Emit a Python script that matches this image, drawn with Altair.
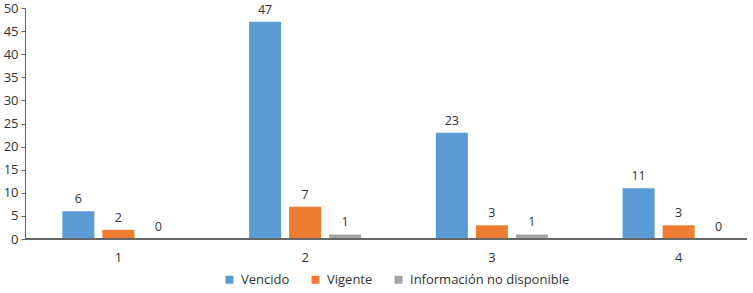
import altair as alt
import pandas as pd

categories = ["1", "2", "3", "4"]
series = ["Vencido", "Vigente", "Información no disponible"]
vencido = [6, 47, 23, 11]
vigente = [2, 7, 3, 3]
info_nd = [0, 1, 1, 0]
colors = ["#5B9BD5", "#ED7D31", "#A5A5A5"]

rows = []
for i, c in enumerate(categories):
    for s, vals in zip(series, [vencido, vigente, info_nd]):
        rows.append({"cat": c, "serie": s, "valor": vals[i]})
df = pd.DataFrame(rows)

FONT = "Open Sans"
W, H = 722, 231

x = alt.X("cat:N", sort=categories, title=None,
          scale=alt.Scale(range=[0, 747], paddingInner=0, paddingOuter=0),
          axis=alt.Axis(labelAngle=0, domain=False, ticks=False, labelPadding=12,
                        labelFont=FONT, labelFontSize=13, labelColor="#333333"))
xo = alt.XOffset("serie:N", sort=series,
                 scale=alt.Scale(paddingInner=0.2, paddingOuter=0.933))
y = alt.Y("valor:Q", title=None,
          scale=alt.Scale(domain=[0, 50], nice=False),
          axis=alt.Axis(values=list(range(0, 51, 5)), grid=False, domainColor="#666666",
                        tickColor="#666666", tickSize=4, labelPadding=3,
                        labelFont=FONT, labelFontSize=13, labelColor="#333333"))

bars = alt.Chart(df).mark_bar().encode(
    x=x, xOffset=xo, y=y,
    color=alt.Color("serie:N", sort=series,
                    scale=alt.Scale(domain=series, range=colors),
                    legend=alt.Legend(title=None, orient="none", direction="horizontal",
                                      legendX=198, legendY=265, symbolType="square",
                                      symbolSize=64, symbolStrokeWidth=0, labelFont=FONT,
                                      labelFontSize=13, labelColor="#333333",
                                      labelOffset=5, columnPadding=19, padding=0)),
)

labels = alt.Chart(df).mark_text(dy=-8, baseline="alphabetic", font=FONT, fontSize=12.5,
                                 color="#333333").encode(
    x=x, xOffset=xo, y=y, text="valor:Q"
)

axis_line = alt.Chart(df).mark_rule(color="#666666", strokeWidth=1).encode(
    x=alt.value(0), x2=alt.value(W), y=alt.value(H)
)

chart = alt.layer(bars, labels, axis_line).properties(
    width=W, height=H,
    autosize=alt.AutoSizeParams(type="none"),
    padding={"left": 25, "top": 8, "right": 6, "bottom": 54},
).configure_view(stroke=None)

chart.save("out.html", embed_options={"renderer": "svg", "actions": False})
